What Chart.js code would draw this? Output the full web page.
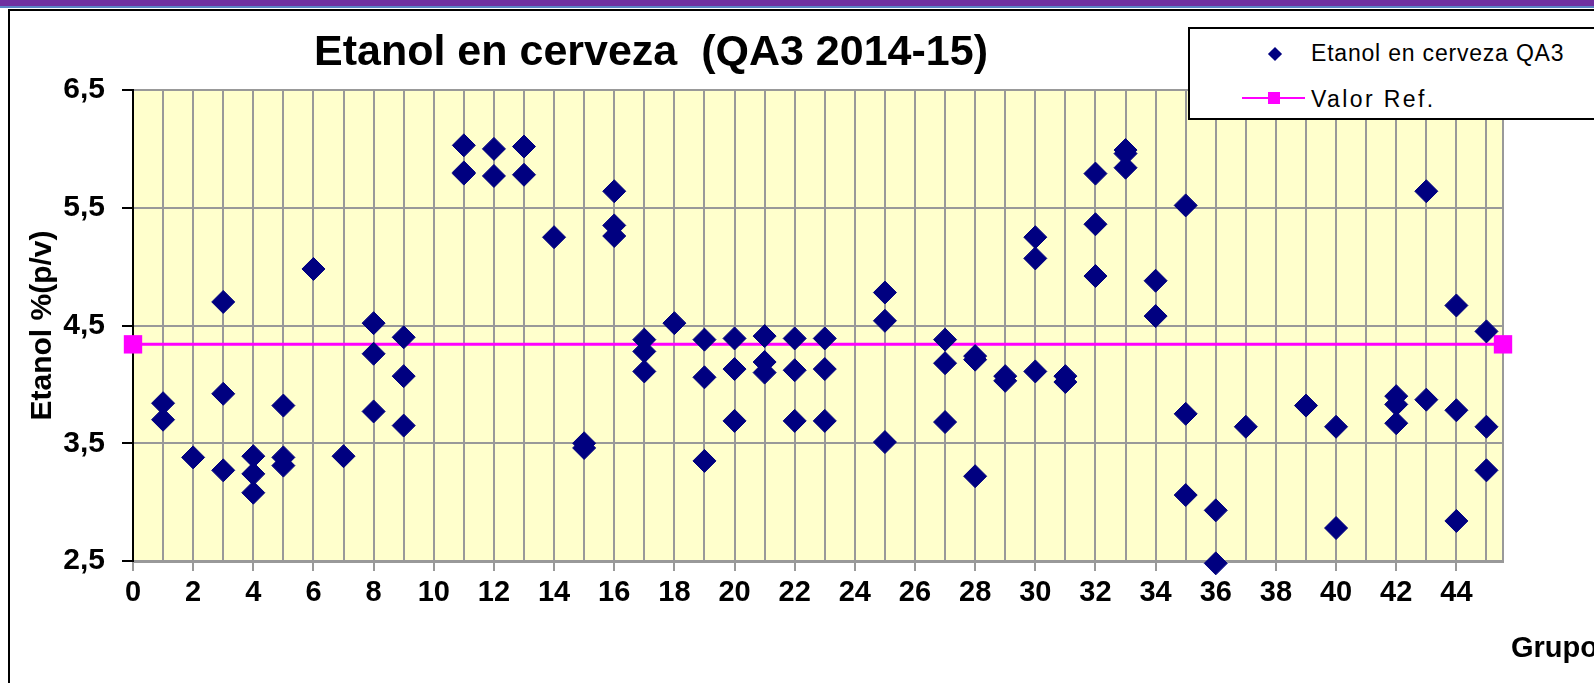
<!DOCTYPE html>
<html>
<head>
<meta charset="utf-8">
<title>Etanol en cerveza (QA3 2014-15)</title>
<script src="https://cdn.jsdelivr.net/npm/chart.js@4.4.1/dist/chart.umd.min.js"></script>
<style>
    html, body { margin: 0; padding: 0; background: #fff; }
    #page { position: relative; width: 1594px; height: 683px; overflow: hidden; font-family: "Liberation Sans", Arial, sans-serif; color: #000; }
    .topBar { position: absolute; left: 0; top: 0; width: 1594px; height: 6px; background: #7030a0; }
    .topLine { position: absolute; left: 0; top: 6px; width: 1594px; height: 2px; background: #5b86c5; }
    .frame { position: absolute; left: 8px; top: 9px; width: 1600px; height: 700px; border-left: 2px solid #000; border-top: 2px solid #000; }
    #chart { position: absolute; left: 0; top: 0; }
    #title { position: absolute; left: 651px; top: 29px; transform: translateX(-50%); font-size: 43px; line-height: 43px; font-weight: bold; white-space: pre; }
    #xTitle { position: absolute; left: 1511px; top: 633px; font-size: 29px; line-height: 29px; font-weight: bold; white-space: nowrap; }
    #legend { position: absolute; left: 1188px; top: 27px; width: 420px; height: 89px; border: 2px solid #000; background: #fff; }
    #legend .txt { position: absolute; left: 121px; font-size: 23px; line-height: 23px; white-space: nowrap; }
    #legend .diamond { position: absolute; left: 80px; top: 20px; width: 10px; height: 10px; background: #000080; transform: rotate(45deg); }
    #legend .refLine { position: absolute; left: 52px; top: 68px; width: 63px; height: 2px; background: #ff00ff; }
    #legend .refMark { position: absolute; left: 78px; top: 63px; width: 12px; height: 12px; background: #ff00ff; }
</style>
</head>
<body>
<div id="page">
    <div class="topBar"></div>
    <div class="topLine"></div>
    <div class="frame"></div>
    <canvas id="chart" width="1594" height="683"></canvas>
    <div id="title">Etanol en cerveza  (QA3 2014-15)</div>
    <div id="legend">
        <div class="diamond"></div>
        <div class="txt" style="top: 13px; letter-spacing: 0.8px;">Etanol en cerveza QA3</div>
        <div class="refLine"></div>
        <div class="refMark"></div>
        <div class="txt" style="top: 59px; letter-spacing: 2.4px;">Valor Ref.</div>
    </div>
    <div id="xTitle">Grupo</div>
</div>
<script>
    // grupo de cada resultado y su valor de etanol %(p/v)
    const grupos = [
        1, 1, 2, 3, 3, 3, 4, 4, 4, 5, 5, 5, 6, 7, 8, 8, 8, 9, 9, 9,
        11, 11, 11, 12, 12, 13, 13, 14, 15, 15, 16, 16, 16, 17, 17, 17, 18,
        19, 19, 19, 20, 20, 20, 21, 21, 21, 22, 22, 22, 23, 23, 23,
        25, 25, 25, 27, 27, 27, 28, 28, 28, 29, 29, 30, 30, 30, 31, 31,
        32, 32, 32, 33, 33, 33, 34, 34, 35, 35, 35, 36, 36, 37, 39, 40, 40,
        42, 42, 42, 43, 43, 44, 44, 44, 45, 45, 45
    ];
    const etanol = [
        3.84, 3.70, 3.38, 4.70, 3.92, 3.27, 3.39, 3.24, 3.08, 3.82, 3.38, 3.31, 4.98, 3.39, 4.52, 4.26, 3.77, 4.40, 4.07, 3.65,
        6.03, 5.80, 5.79, 6.00, 5.77, 6.02, 5.78, 5.25, 3.50, 3.46, 5.64, 5.35, 5.26, 4.38, 4.28, 4.11, 4.52,
        4.38, 4.06, 3.35, 4.39, 4.13, 3.69, 4.41, 4.19, 4.10, 4.39, 4.12, 3.69, 4.39, 4.13, 3.69,
        4.78, 4.54, 3.51, 4.38, 4.18, 3.68, 4.24, 4.21, 3.22, 4.07, 4.03, 5.25, 5.07, 4.11, 4.07, 4.02,
        5.79, 5.36, 4.92, 5.99, 5.96, 5.84, 4.88, 4.58, 5.52, 3.75, 3.06, 2.93, 2.48, 3.64, 3.82, 3.64, 2.78,
        3.90, 3.83, 3.67, 5.64, 3.87, 4.67, 3.78, 2.84, 4.45, 3.64, 3.27
    ];
    const valorRef = 4.34;
    const xMin = 0;
    const xMax = 45.55;
    const yMin = 2.5;
    const yMax = 6.5;

    const gridGray = "#999999";
    const axisFont = "'Liberation Sans', Arial, sans-serif";

    const plotBackground = {
        id: "plotBackground",
        beforeDraw(chart) {
            const { ctx, chartArea: a } = chart;
            ctx.save();
            ctx.fillStyle = "#ffffcc";
            ctx.fillRect(a.left, a.top, a.right - a.left, a.bottom - a.top);
            ctx.restore();
        },
        beforeDatasetsDraw(chart) {
            const { ctx, chartArea: a } = chart;
            ctx.save();
            ctx.strokeStyle = gridGray;
            ctx.lineWidth = 2;
            ctx.beginPath();
            ctx.moveTo(a.right, a.top);
            ctx.lineTo(a.right, a.bottom);
            ctx.stroke();
            ctx.restore();
        }
    };

    const ctx = document.getElementById("chart").getContext("2d");
    new Chart(ctx, {
        type: "scatter",
        data: {
            datasets: [
                {
                    label: "Etanol en cerveza QA3",
                    data: grupos.map((g, i) => ({ x: g, y: etanol[i] })),
                    pointStyle: "rectRot",
                    pointRadius: 11.5,
                    backgroundColor: "#000080",
                    borderColor: "#000080",
                    borderWidth: 1,
                    clip: false
                },
                {
                    type: "line",
                    label: "Valor Ref.",
                    data: [{ x: xMin, y: valorRef }, { x: xMax, y: valorRef }],
                    borderColor: "#ff00ff",
                    borderWidth: 3,
                    pointStyle: "rect",
                    pointRadius: 13,
                    pointBackgroundColor: "#ff00ff",
                    pointBorderColor: "#ff00ff",
                    pointBorderWidth: 0,
                    clip: false
                }
            ]
        },
        options: {
            responsive: false,
            devicePixelRatio: 1,
            animation: false,
            events: [],
            layout: { padding: { left: 8, top: 90, right: 91, bottom: 62 } },
            plugins: { legend: { display: false }, title: { display: false }, tooltip: { enabled: false } },
            scales: {
                x: {
                    type: "linear",
                    min: xMin,
                    max: xMax,
                    afterFit: scale => { scale.height = 60; },
                    border: { color: gridGray, width: 3 },
                    grid: {
                        color: gridGray,
                        lineWidth: 2,
                        tickLength: 10,
                        tickColor: c => (c.tick && c.tick.value % 2 === 0 ? gridGray : "rgba(0,0,0,0)")
                    },
                    ticks: {
                        stepSize: 1,
                        includeBounds: false,
                        autoSkip: false,
                        maxRotation: 0,
                        padding: 5,
                        color: "#000",
                        font: { family: axisFont, size: 29, weight: "bold" },
                        callback: v => (v % 2 === 0 ? String(v) : "")
                    }
                },
                y: {
                    min: yMin,
                    max: yMax,
                    afterFit: scale => { scale.width = 125; },
                    border: { color: "#000", width: 2 },
                    grid: { color: gridGray, lineWidth: 2, tickLength: 11, tickColor: "#000", tickWidth: 2 },
                    title: {
                        display: true,
                        text: "Etanol %(p/v)",
                        color: "#000",
                        padding: { top: 17, bottom: 0 },
                        font: { family: axisFont, size: 30, weight: "bold" }
                    },
                    ticks: {
                        stepSize: 1,
                        padding: 17,
                        color: "#000",
                        font: { family: axisFont, size: 30, weight: "bold" },
                        callback: v => v.toFixed(1).replace(".", ",")
                    }
                }
            }
        },
        plugins: [plotBackground]
    });
</script>
</body>
</html>
